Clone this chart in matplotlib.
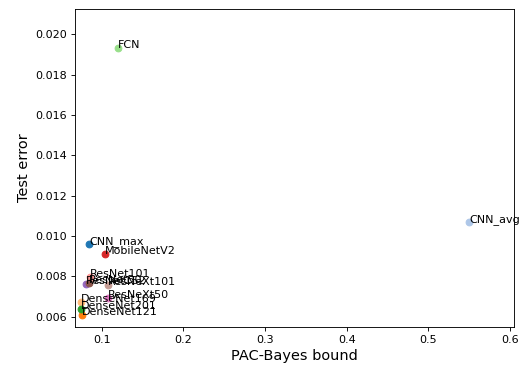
import matplotlib
matplotlib.use("Agg")
import matplotlib.pyplot as plt

# data
names = ['CNN_max', 'CNN_avg', 'DenseNet121', 'DenseNet169', 'DenseNet201', 'FCN',
         'MobileNetV2', 'ResNet101', 'ResNet152', 'ResNet50', 'ResNeXt101', 'ResNeXt50']
pac_bayes = [0.0848, 0.5496, 0.0763, 0.0743, 0.0750, 0.1200,
             0.1037, 0.0853, 0.0812, 0.0845, 0.1077, 0.1077]
test_err = [0.00959, 0.01068, 0.00608, 0.00674, 0.00636, 0.01932,
            0.00913, 0.00798, 0.00760, 0.00765, 0.00757, 0.00694]
colors = ['#1f77b4', '#aec7e8', '#ff7f0e', '#ffbb78', '#2ca02c', '#98df8a',
          '#d62728', '#ff9896', '#9467bd', '#8c564b', '#c49c94', '#e377c2']

fig = plt.figure(figsize=(6.5, 4.6), dpi=80)
ax = fig.add_axes([0.1442, 0.1114, 0.8443, 0.8641])

for n, x, y, c in zip(names, pac_bayes, test_err, colors):
    ax.scatter(x, y, color=c, s=36, zorder=2)
    ax.annotate(n, (x, y), fontsize=10)

ax.set_xlim(0.0673, 0.6048)
ax.set_ylim(0.00549, 0.02125)
ax.set_xticks([0.1, 0.2, 0.3, 0.4, 0.5, 0.6])
ax.set_yticks([0.006, 0.008, 0.010, 0.012, 0.014, 0.016, 0.018, 0.020])
ax.set_xlabel('PAC-Bayes bound', fontsize=13)
ax.set_ylabel('Test error', fontsize=13)

plt.savefig('out.png', dpi=80)
